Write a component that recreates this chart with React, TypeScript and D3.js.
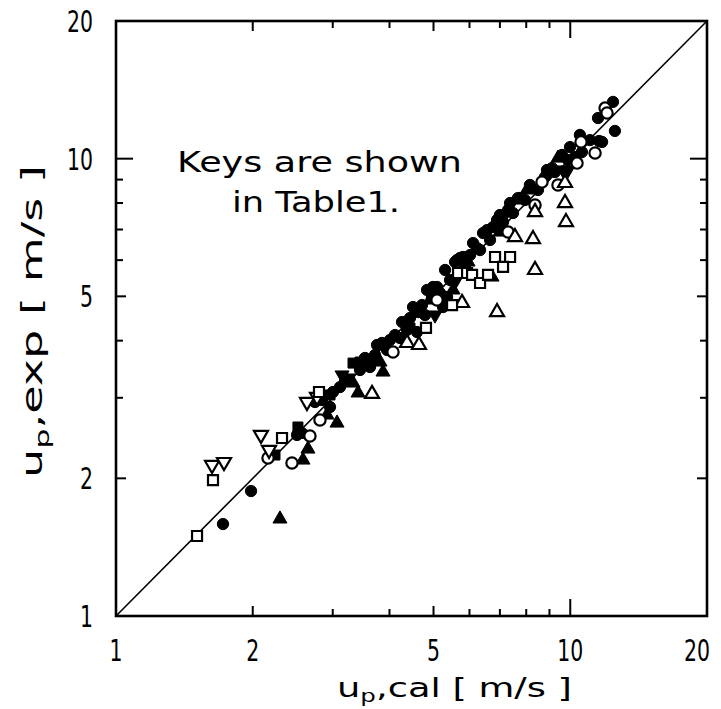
import React from "react";
import * as d3 from "d3";

// ---- data (u_p,cal , u_p,exp) in m/s ----
const filledCircle: [number, number][] = [
  [1.72, 1.589], [1.983, 1.876], [2.503, 2.488], [2.567, 2.513], [2.959, 2.864],
  [3.004, 3.089], [3.113, 3.167], [3.533, 3.666], [3.624, 3.503], [3.755, 3.914],
  [3.851, 3.954], [3.95, 3.817], [4.114, 4.115], [4.263, 4.394], [4.372, 4.221],
  [4.507, 4.738], [4.623, 4.62], [4.599, 4.178], [4.838, 5.163], [4.987, 5.241],
  [5.168, 5.086], [5.356, 4.984], [5.302, 5.71], [5.634, 6.005], [5.808, 6.096],
  [5.72, 6.066], [5.577, 5.944], [5.09, 5.241], [4.962, 4.984], [5.248, 4.738],
  [6.11, 6.539], [6.235, 6.376], [6.428, 6.877], [6.761, 7.088], [6.9, 7.343],
  [7.296, 7.723], [7.371, 8.0], [7.482, 7.606], [8.798, 9.12], [8.887, 9.445],
  [9.886, 9.93], [10.24, 10.08], [9.986, 10.6], [10.5, 11.27], [10.61, 10.88],
  [10.61, 10.34], [11.57, 10.93], [11.51, 12.27], [12.42, 13.31], [12.54, 11.5],
  [11.75, 10.88], [9.59, 10.19], [6.56, 6.98], [7.0, 7.53], [7.67, 8.2],
  [8.15, 8.76], [9.12, 9.54],
  [2.742, 2.937], [2.841, 2.967], [3.193, 3.281], [3.445, 3.451], [3.717, 3.722],
  [4.01, 4.013], [4.219, 4.054], [4.438, 4.483], [4.717, 4.786], [4.789, 4.551],
  [5.437, 5.429], [5.866, 5.854], [6.018, 6.156], [6.33, 6.312], [6.659, 6.64],
  [7.113, 7.269], [7.948, 8.122], [8.492, 8.543], [9.256, 9.352], [11.05, 10.98],
];
const openCircle: [number, number][] = [
  [2.161, 2.215], [2.44, 2.16], [2.673, 2.475], [2.812, 2.683], [4.072, 3.779],
  [5.09, 4.909], [7.296, 6.912], [8.364, 7.92], [9.397, 8.761], [8.665, 8.895],
  [10.35, 9.78], [11.34, 10.29], [10.56, 10.88], [11.93, 12.9], [12.05, 12.59],
];
const filledTriangle: [number, number][] = [
  [2.296, 1.63], [2.646, 2.318], [2.58, 2.193], [3.066, 2.642], [2.914, 2.751],
  [3.411, 3.074], [3.325, 3.232], [3.871, 3.416], [5.521, 5.163], [6.727, 5.511],
  [7.75, 8.122], [8.03, 8.543], [9.397, 10.03],
  [3.813, 3.592], [4.912, 4.909], [5.957, 5.944], [7.004, 6.912],
];
const openTriangle: [number, number][] = [
  [3.661, 3.059], [4.372, 3.954], [4.645, 3.914], [5.778, 4.836], [7.557, 6.74],
  [8.279, 6.672], [8.364, 5.71], [6.9, 4.62], [8.364, 7.645], [9.737, 8.0],
  [9.786, 7.269], [9.737, 8.85],
];
const openTriDown: [number, number][] = [
  [1.627, 2.139], [1.729, 2.171], [2.085, 2.488], [2.172, 2.307], [2.633, 2.937],
  [2.77, 3.013],
];
const filledTriDown: [number, number][] = [
  [3.145, 3.365], [3.242, 3.314], [5.038, 4.551], [9.639, 9.445], [9.886, 9.445],
  [3.661, 3.628], [5.577, 5.374], [7.18, 7.53],
];
const openSquare: [number, number][] = [
  [1.508, 1.496], [1.635, 1.983], [2.32, 2.45], [2.798, 3.089], [4.813, 4.264],
  [5.493, 4.786], [5.662, 5.624], [5.927, 5.624], [6.83, 6.096], [7.371, 6.096],
  [7.113, 5.797], [6.079, 5.568], [6.33, 5.348], [6.592, 5.568],
];
const filledSquare: [number, number][] = [
  [2.239, 2.249], [2.515, 2.59], [3.325, 3.573], [3.445, 3.592], [3.533, 3.628],
  [2.959, 3.043], [4.438, 4.264],
];

const minorTicks = [2, 3, 4, 5, 6, 7, 8, 9, 10];
const tickLabels = [1, 2, 5, 10, 20];
const domain: [number, number] = [1, 20];

const W = 721, H = 709;
const L = 116, R = 707, T = 21, B = 616;

export default function App() {
  const x = d3.scaleLog().domain(domain).range([L, R]);
  const y = d3.scaleLog().domain(domain).range([B, T]);

  const circ = d3.symbol().type(d3.symbolCircle).size(100)()!;
  const sq = d3.symbol().type(d3.symbolSquare).size(100)()!;
  const tri = d3.symbol().type(d3.symbolTriangle).size(85)()!;

  const tickLen = (v: number) => (v === 10 ? 17 : v === 2 || v === 5 ? 10 : 7);
  const lbl = "'Liberation Sans Narrow','DejaVu Sans Condensed','Arial Narrow',sans-serif";
  const txt = "'DejaVu Sans','Verdana',sans-serif";

  const draw = (
    pts: [number, number][],
    path: string,
    filled: boolean,
    rot = 0,
    key = ""
  ) =>
    pts.map((p, i) => (
      <path
        key={key + i}
        d={path}
        transform={`translate(${x(p[0])},${y(p[1])}) rotate(${rot})`}
        fill={filled ? "#000" : "#fff"}
        stroke="#000"
        strokeWidth={filled ? 1 : 2.2}
      />
    ));

  return (
    <svg
      width={W}
      height={H}
      style={{ position: "absolute", left: 0, top: 0, background: "#fff" }}
    >
      <rect x={0} y={0} width={W} height={H} fill="#fff" />
      {/* diagonal */}
      <line x1={x(1)} y1={y(1)} x2={x(20)} y2={y(20)} stroke="#000" strokeWidth={1.6} />

      {/* ticks */}
      {minorTicks.map((v) => (
        <g key={"t" + v} stroke="#000" strokeWidth={2}>
          <line x1={x(v)} x2={x(v)} y1={B} y2={B - tickLen(v)} />
          <line x1={x(v)} x2={x(v)} y1={T} y2={T + tickLen(v)} />
          <line x1={L} x2={L + tickLen(v)} y1={y(v)} y2={y(v)} />
          <line x1={R} x2={R - tickLen(v)} y1={y(v)} y2={y(v)} />
        </g>
      ))}

      {/* markers */}
      {draw(filledCircle, circ, true, 0, "fc")}
      {draw(filledTriangle, tri, true, 0, "ft")}
      {draw(filledTriDown, tri, true, 180, "fd")}
      {draw(filledSquare, sq, true, 0, "fs")}
      {draw(openCircle, circ, false, 0, "oc")}
      {draw(openTriangle, tri, false, 0, "ot")}
      {draw(openTriDown, tri, false, 180, "od")}
      {draw(openSquare, sq, false, 0, "os")}

      {/* frame */}
      <rect x={L} y={T} width={R - L} height={B - T} fill="none" stroke="#000" strokeWidth={2.6} />

      {/* tick labels */}
      {tickLabels.map((v) => (
        <text
          key={"xl" + v}
          x={v === 20 ? x(v) - 10 : x(v)}
          y={661}
          textAnchor="middle"
          fontFamily={lbl}
          fontSize={31}
          textLength={String(v).length * 13}
          lengthAdjust="spacingAndGlyphs"
        >
          {v}
        </text>
      ))}
      {tickLabels.map((v) => (
        <text
          key={"yl" + v}
          x={93}
          y={y(v) + 11}
          textAnchor="end"
          fontFamily={lbl}
          fontSize={31}
          textLength={String(v).length * 13}
          lengthAdjust="spacingAndGlyphs"
        >
          {v}
        </text>
      ))}

      {/* axis titles */}
      <text x={337} y={697} fontFamily={txt} fontSize={27} textLength={235} lengthAdjust="spacingAndGlyphs">
        u<tspan dy={5} fontSize={18}>p</tspan>
        <tspan dy={-5}>,cal [ m/s ]</tspan>
      </text>
      <text
        transform="translate(42,478) rotate(-90)"
        fontFamily={txt}
        fontSize={29}
        textLength={313}
        lengthAdjust="spacingAndGlyphs"
      >
        u<tspan dy={7} fontSize={20}>p</tspan>
        <tspan dy={-7}>,exp [ m/s ]</tspan>
      </text>

      {/* annotation */}
      <text x={177} y={172} fontFamily={txt} fontSize={29} textLength={285} lengthAdjust="spacingAndGlyphs">
        Keys are shown
      </text>
      <text x={232} y={212} fontFamily={txt} fontSize={29} textLength={168} lengthAdjust="spacingAndGlyphs">
        in Table1.
      </text>
    </svg>
  );
}
